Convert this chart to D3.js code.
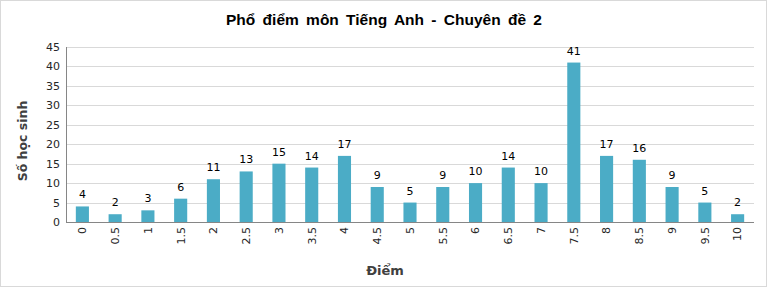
<!DOCTYPE html>
<html lang="vi">
<head>
    <meta charset="UTF-8">
    <title>Phổ điểm môn Tiếng Anh - Chuyên đề 2</title>
    <script src="https://d3js.org/d3.v7.min.js"></script>
    <style>
        body { margin: 0; background: #fff; }
        #chart svg { display: block; }
        .grid line { stroke: #d9d9d9; }
        .axis text { font-family: 'DejaVu Sans', sans-serif; font-size: 11px; fill: #262626; }
        .axis path, .axis line { stroke: #868686; }
    </style>
</head>
<body>
    <div id="chart"></div>
    <script>
        // Data
        const diem = ["0", "0.5", "1", "1.5", "2", "2.5", "3", "3.5", "4", "4.5", "5",
                      "5.5", "6", "6.5", "7", "7.5", "8", "8.5", "9", "9.5", "10"];
        const soHocSinh = [4, 2, 3, 6, 11, 13, 15, 14, 17, 9, 5, 9, 10, 14, 10, 41, 17, 16, 9, 5, 2];
        const yTicks = [0, 5, 10, 15, 20, 25, 30, 35, 40, 45];

        const W = 769, H = 289;
        const margin = {top: 47, right: 15, bottom: 67, left: 66};
        const width = W - margin.left - margin.right;
        const height = H - margin.top - margin.bottom;

        const root = d3.select("#chart").append("svg")
            .attr("width", W)
            .attr("height", H);

        // outer chart border
        root.append("rect")
            .attr("x", 0.5).attr("y", 0.5)
            .attr("width", W - 3).attr("height", H - 3)
            .attr("fill", "#fff")
            .attr("stroke", "#d9d9d9");

        root.append("text")
            .attr("x", 384)
            .attr("y", 25)
            .attr("text-anchor", "middle")
            .attr("font-family", "'Liberation Sans', Arial, sans-serif")
            .attr("font-weight", "bold")
            .attr("font-size", "15.5px")
            .attr("word-spacing", "3px")
            .attr("fill", "#000")
            .text("Phổ điểm môn Tiếng Anh - Chuyên đề 2");

        const svg = root.append("g")
            .attr("transform", `translate(${margin.left},${margin.top})`);

        const x = d3.scaleBand()
            .domain(diem)
            .range([0, width])
            .paddingInner(0.6)
            .paddingOuter(0.3);

        const y = d3.scaleLinear()
            .domain([0, 45])
            .range([height, 0]);

        // gridlines
        svg.append("g")
            .attr("class", "grid")
            .selectAll("line")
            .data(yTicks.slice(1))
            .enter()
            .append("line")
            .attr("x1", 0)
            .attr("x2", width)
            .attr("y1", d => Math.round(y(d)) + 0.5)
            .attr("y2", d => Math.round(y(d)) + 0.5);

        // bars
        svg.selectAll(".bar")
            .data(soHocSinh)
            .enter()
            .append("rect")
            .attr("class", "bar")
            .attr("x", (d, i) => x(diem[i]))
            .attr("y", d => y(d))
            .attr("width", x.bandwidth())
            .attr("height", d => height - y(d))
            .attr("fill", "#4bacc6");

        // data labels
        svg.selectAll(".label")
            .data(soHocSinh)
            .enter()
            .append("text")
            .attr("class", "label")
            .attr("x", (d, i) => x(diem[i]) + x.bandwidth() / 2)
            .attr("y", d => y(d) - 8)
            .attr("text-anchor", "middle")
            .attr("font-family", "'DejaVu Sans', sans-serif")
            .attr("font-size", "11px")
            .attr("fill", "#000")
            .text(d => d);

        // y axis
        const yAxis = svg.append("g")
            .attr("class", "axis")
            .call(d3.axisLeft(y).tickValues(yTicks).tickSize(0).tickPadding(6));
        yAxis.select(".domain").attr("d", `M0.5,0V${height}`);

        // x axis
        const xAxis = svg.append("g")
            .attr("class", "axis")
            .attr("transform", `translate(0,${height})`)
            .call(d3.axisBottom(x).tickSize(0).tickSizeOuter(0));
        xAxis.select(".domain").attr("d", `M0,0.5H${width}`);
        xAxis.selectAll("text")
            .attr("transform", "rotate(-90)")
            .attr("text-anchor", "end")
            .attr("x", -5)
            .attr("y", 0)
            .attr("dy", "0.35em");

        // axis titles
        root.append("text")
            .attr("transform", `translate(27,141) rotate(-90)`)
            .attr("text-anchor", "middle")
            .attr("font-family", "'DejaVu Sans', sans-serif")
            .attr("font-weight", "bold")
            .attr("font-size", "12.5px")
            .attr("fill", "#404040")
            .text("Số học sinh");

        root.append("text")
            .attr("x", 385)
            .attr("y", 275)
            .attr("text-anchor", "middle")
            .attr("font-family", "'DejaVu Sans', sans-serif")
            .attr("font-weight", "bold")
            .attr("font-size", "13px")
            .attr("fill", "#404040")
            .text("Điểm");
    </script>
</body>
</html>
